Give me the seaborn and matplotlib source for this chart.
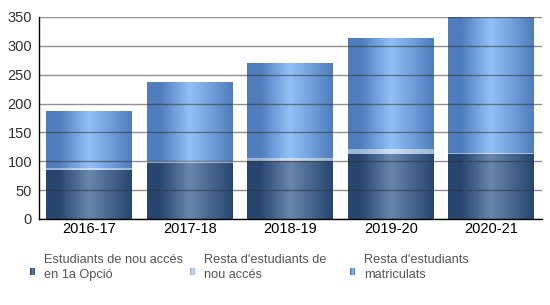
import numpy as np
import pandas as pd
import matplotlib
matplotlib.use("Agg")
import matplotlib.pyplot as plt
import seaborn as sns
from matplotlib.colors import LinearSegmentedColormap

# ---- data ----
courses = ["2016-17", "2017-18", "2018-19", "2019-20", "2020-21"]
first_option = [84, 96, 99, 111, 111]
other_new = [3, 3, 5, 9, 3]
rest_enrolled = [100, 138, 165, 192, 236]
labels = ["Estudiants de nou accés\nen 1a Opció",
          "Resta d'estudiants de\nnou accés",
          "Resta d'estudiants\nmatriculats"]

# gradient colours (edge, centre)
grads = [("#264670", "#6787ad"),
         ("#9db6d6", "#cfe0f3"),
         ("#4f7dbd", "#92c1f7")]

sns.set_theme(style="white")
plt.rcParams["font.family"] = ["Liberation Sans", "DejaVu Sans"]

fig = plt.figure(figsize=(5.5, 3.05), dpi=100)
ax = fig.add_axes([39/550, 1-219/305, (541.5-39)/550, (219-17)/305])

df = pd.DataFrame({"curs": courses,
                   "a": first_option, "b": other_new, "c": rest_enrolled})
df["ab"] = df["a"] + df["b"]
df["abc"] = df["ab"] + df["c"]

groups = []
for col in ["abc", "ab", "a"]:
    n0 = len(ax.patches)
    sns.barplot(data=df, x="curs", y=col, ax=ax, width=0.855,
                color="#5b8bc8", saturation=1, linewidth=0, errorbar=None)
    groups.append(ax.patches[n0:])
# groups[0] totals -> rest colour, groups[1] -> light, groups[2] -> dark
series_grad = {0: grads[2], 1: grads[1], 2: grads[0]}

def make_cmap(edge, centre):
    return LinearSegmentedColormap.from_list(
        "g", [(0, edge), (0.15, edge), (0.5, centre), (1.0, edge)])

grad_row = np.linspace(0, 1, 256).reshape(1, -1)
ax.set_xlim(-0.5, 4.5)
ax.set_ylim(0, 350)
for gi, patches in enumerate(groups):
    edge, centre = series_grad[gi]
    cmap = make_cmap(edge, centre)
    for p in patches:
        x0, y0 = p.get_x(), p.get_y()
        w, h = p.get_width(), p.get_height()
        p.set_facecolor("none")
        ax.imshow(grad_row, cmap=cmap, aspect="auto",
                  extent=(x0, x0 + w, y0, y0 + h),
                  zorder=1 + gi * 0.1, interpolation="bilinear")
ax.set_xlim(-0.5, 4.5)
ax.set_ylim(0, 350)
ax.set_aspect("auto")

ax.set_yticks(range(0, 351, 50))
ax.yaxis.grid(True, color="#333333", alpha=0.55, linewidth=1, zorder=3)
ax.set_axisbelow(False)
ax.set_xlabel("")
ax.set_ylabel("")
for s in ["top", "right"]:
    ax.spines[s].set_visible(False)
for s in ["left", "bottom"]:
    ax.spines[s].set_color("black")
    ax.spines[s].set_linewidth(1)
    ax.spines[s].set_zorder(4)
ax.tick_params(axis="both", length=0, labelsize=10.5)
ax.tick_params(axis="y", pad=5, labelcolor="#333333")
ax.tick_params(axis="x", pad=2, labelcolor="black")

# ---- legend ----
leg_x = [30, 190, 350]
for i, (lab, (edge, centre)) in enumerate(zip(labels, grads)):
    lax = fig.add_axes([leg_x[i]/550, 1-275/305, 5/550, 7/305])
    lax.imshow(grad_row, cmap=make_cmap(edge, centre), aspect="auto",
               interpolation="bilinear")
    lax.axis("off")
    fig.text((leg_x[i] + 14)/550, 1-267.5/305, lab, fontsize=9.2,
             color="#555555", va="center", ha="left", linespacing=1.4)

fig.savefig("out.png", dpi=100)
